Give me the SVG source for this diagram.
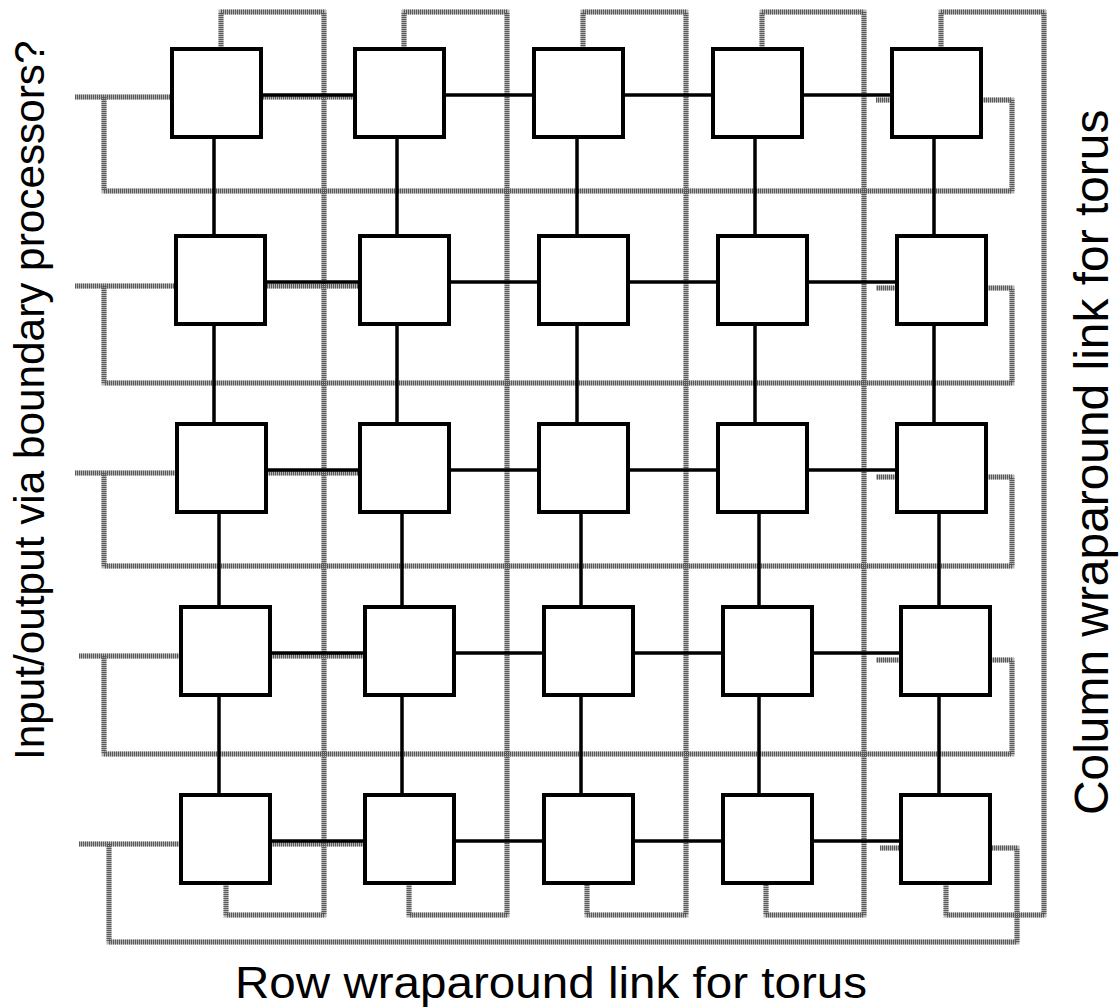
<svg xmlns="http://www.w3.org/2000/svg" xmlns:xlink="http://www.w3.org/1999/xlink" width="1120" height="1007" viewBox="0 0 1120 1007">
  <style>
    .wrap-base { fill: none; stroke: #b4b4b4; stroke-width: 5; }
    .wrap-hatch { fill: none; stroke: #5a5a5a; stroke-width: 5; stroke-dasharray: 1 1; }
    .mesh { fill: none; stroke: #000; stroke-width: 3.5; }
    .pe rect { fill: #fff; stroke: #000; stroke-width: 4; }
    .label { font-family: "Liberation Sans", Arial, sans-serif; fill: #000; }
  </style>
  <defs>
    <!-- torus wraparound routes (drawn twice: light base + dark hatching) -->
    <path id="colwrap1" d="M221 60 V12 H324 V915 H226 V870"/>
    <path id="colwrap2" d="M404 60 V12 H507 V915 H409 V870"/>
    <path id="colwrap3" d="M583 60 V12 H686 V915 H587 V870"/>
    <path id="colwrap4" d="M762 60 V12 H864 V915 H766 V870"/>
    <path id="colwrap5" d="M941 60 V12 H1044 V915 H946 V870"/>
    <path id="rowwrap1" d="M75 97 H400 M104 97 V191 H1012 V100 H876"/>
    <path id="rowwrap2" d="M75 286 H400 M104 286 V383 H1012 V288 H876"/>
    <path id="rowwrap3" d="M75 473 H400 M104 473 V566 H1012 V477 H876"/>
    <path id="rowwrap4" d="M79 656 H400 M104 656 V754 H1012 V660 H876"/>
    <path id="rowwrap5" d="M79 844 H400 M109 844 V942 H1017 V848 H880"/>
  </defs>

  <g id="connectors">
    <g id="wraparound-base" class="wrap-base">
      <use xlink:href="#colwrap1"/><use xlink:href="#colwrap2"/><use xlink:href="#colwrap3"/>
      <use xlink:href="#colwrap4"/><use xlink:href="#colwrap5"/>
      <use xlink:href="#rowwrap1"/><use xlink:href="#rowwrap2"/><use xlink:href="#rowwrap3"/>
      <use xlink:href="#rowwrap4"/><use xlink:href="#rowwrap5"/>
    </g>
    <g id="wraparound-hatch" class="wrap-hatch">
      <use xlink:href="#colwrap1"/><use xlink:href="#colwrap2"/><use xlink:href="#colwrap3"/>
      <use xlink:href="#colwrap4"/><use xlink:href="#colwrap5"/>
      <use xlink:href="#rowwrap1"/><use xlink:href="#rowwrap2"/><use xlink:href="#rowwrap3"/>
      <use xlink:href="#rowwrap4"/><use xlink:href="#rowwrap5"/>
    </g>
    <!-- nearest-neighbour mesh links -->
    <g id="mesh-rows" class="mesh">
      <path d="M216 95 H936"/>
      <path d="M220 282 H941"/>
      <path d="M221 470 H941"/>
      <path d="M225 653 H945"/>
      <path d="M225 841 H945"/>
    </g>
    <g id="mesh-cols" class="mesh">
      <path d="M214 93 V468 M219 468 V839"/>
      <path d="M397 93 V468 M402 468 V839"/>
      <path d="M577 93 V468 M581 468 V839"/>
      <path d="M755 93 V468 M759 468 V839"/>
      <path d="M934 93 V468 M939 468 V839"/>
    </g>
  </g>

  <!-- processing elements, row by row -->
  <g id="pe-1-1" class="pe"><rect x="172" y="49" width="89" height="88"/></g>
  <g id="pe-1-2" class="pe"><rect x="355" y="49" width="89" height="88"/></g>
  <g id="pe-1-3" class="pe"><rect x="534" y="49" width="89" height="88"/></g>
  <g id="pe-1-4" class="pe"><rect x="713" y="49" width="89" height="88"/></g>
  <g id="pe-1-5" class="pe"><rect x="892" y="49" width="89" height="88"/></g>

  <g id="pe-2-1" class="pe"><rect x="176" y="236" width="89" height="88"/></g>
  <g id="pe-2-2" class="pe"><rect x="360" y="236" width="89" height="88"/></g>
  <g id="pe-2-3" class="pe"><rect x="539" y="236" width="89" height="88"/></g>
  <g id="pe-2-4" class="pe"><rect x="718" y="236" width="89" height="88"/></g>
  <g id="pe-2-5" class="pe"><rect x="897" y="236" width="89" height="88"/></g>

  <g id="pe-3-1" class="pe"><rect x="177" y="424" width="89" height="88"/></g>
  <g id="pe-3-2" class="pe"><rect x="360" y="424" width="89" height="88"/></g>
  <g id="pe-3-3" class="pe"><rect x="539" y="424" width="89" height="88"/></g>
  <g id="pe-3-4" class="pe"><rect x="718" y="424" width="89" height="88"/></g>
  <g id="pe-3-5" class="pe"><rect x="897" y="424" width="89" height="88"/></g>

  <g id="pe-4-1" class="pe"><rect x="181" y="607" width="89" height="88"/></g>
  <g id="pe-4-2" class="pe"><rect x="365" y="607" width="89" height="88"/></g>
  <g id="pe-4-3" class="pe"><rect x="544" y="607" width="89" height="88"/></g>
  <g id="pe-4-4" class="pe"><rect x="723" y="607" width="89" height="88"/></g>
  <g id="pe-4-5" class="pe"><rect x="901" y="607" width="89" height="88"/></g>

  <g id="pe-5-1" class="pe"><rect x="181" y="795" width="89" height="88"/></g>
  <g id="pe-5-2" class="pe"><rect x="365" y="795" width="89" height="88"/></g>
  <g id="pe-5-3" class="pe"><rect x="544" y="795" width="89" height="88"/></g>
  <g id="pe-5-4" class="pe"><rect x="723" y="795" width="89" height="88"/></g>
  <g id="pe-5-5" class="pe"><rect x="901" y="795" width="89" height="88"/></g>

  <!-- annotations -->
  <text class="label" x="235" y="998" font-size="44" textLength="632" lengthAdjust="spacingAndGlyphs">Row wraparound link for torus</text>
  <text class="label" transform="translate(44 760) rotate(-90)" font-size="42.3">Input/output via boundary processors?</text>
  <text class="label" transform="translate(1108 815) rotate(-90)" font-size="47.9">Column wraparound link for torus</text>
</svg>
